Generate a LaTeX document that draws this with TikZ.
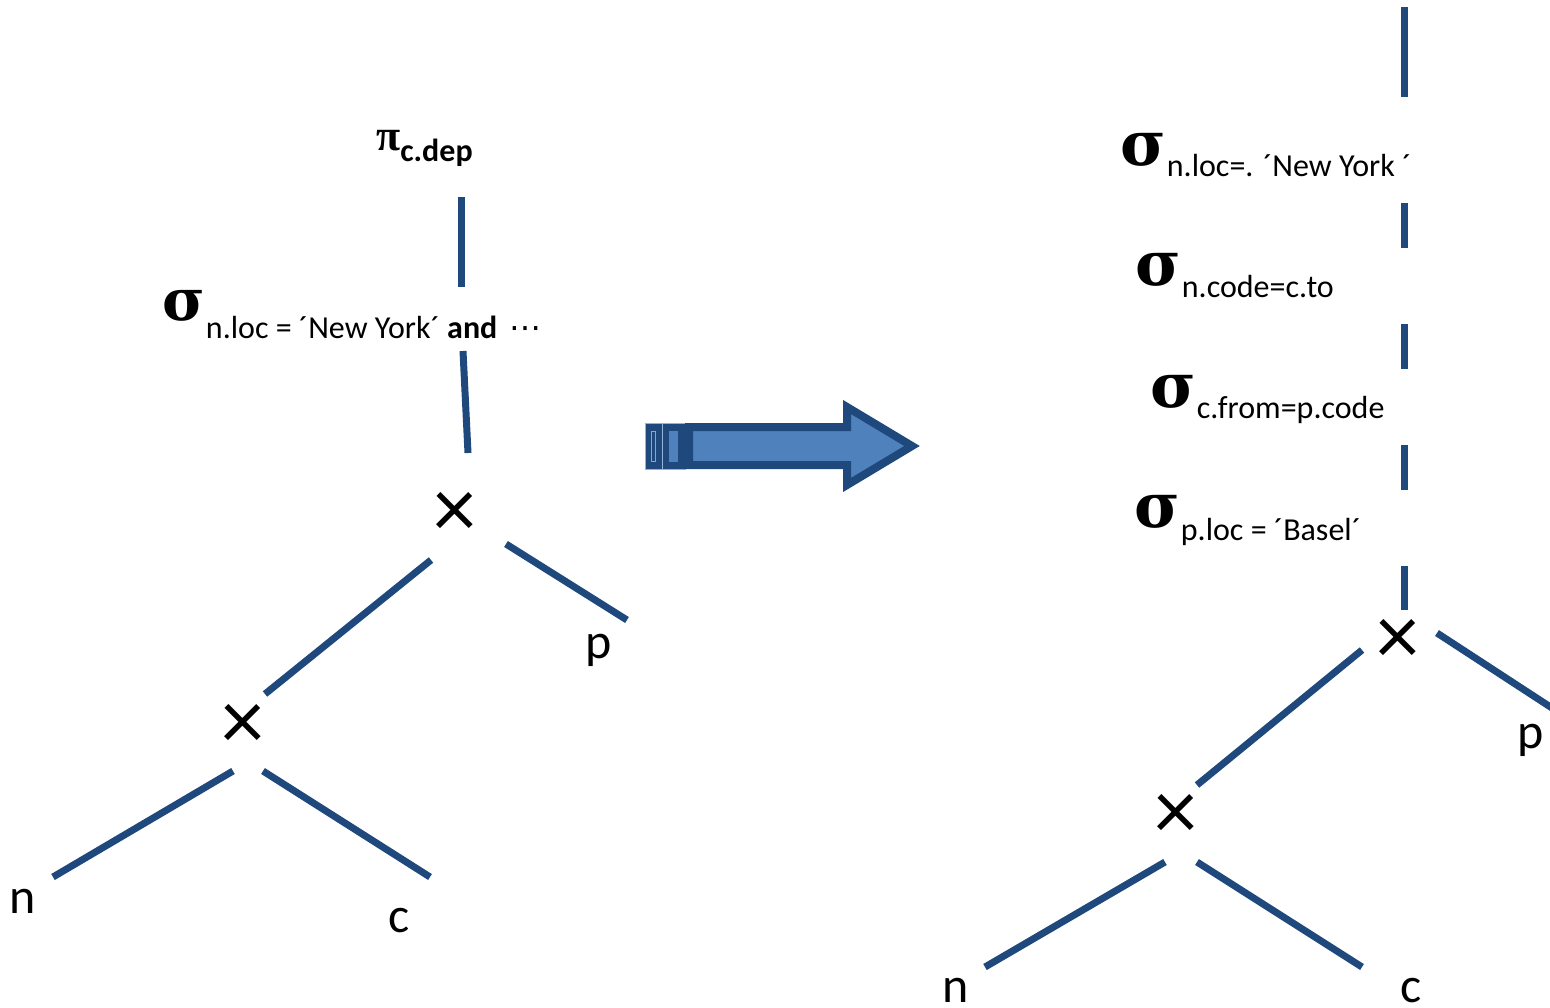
\documentclass[tikz,border=0pt]{standalone}
\usepackage{fontspec}
\setmainfont{Carlito}
\newfontfamily\serifgreek{Liberation Serif}
\newfontfamily\widegreek{DejaVu Serif}
\newfontfamily\dotsfont{DejaVu Sans}
\definecolor{treeblue}{HTML}{1F497D}
\definecolor{arrowfill}{HTML}{4F81BD}

\newcommand\sigmaop[1]{{\fontsize{#1}{#1}\selectfont\widegreek\bfseries σ}}
\newcommand\subtext{\fontsize{32}{36}\selectfont}

\tikzset{
  edge/.style={draw=treeblue, line width=7pt},
  leaf/.style={inner sep=0pt, anchor=base, font=\fontsize{50}{60}\selectfont},
  joinop/.style={inner sep=0pt, font=\fontsize{86}{96}\selectfont},
  oplabel/.style={inner sep=0pt, anchor=base west},
  stripe/.style={fill=treeblue, draw=arrowfill!60, line width=0.8pt},
}

\begin{document}
\begin{tikzpicture}[x=1pt, y=-1pt]
\useasboundingbox (0,0) rectangle (1550,1007);
\clip (0,0) rectangle (1550,1007);

% ---------- left operator tree ----------
\node[oplabel] (proj) at (376,150)
  {{\fontsize{44}{44}\selectfont\serifgreek\bfseries π}\raisebox{-11pt}{\subtext\bfseries c.dep}};
\node[oplabel] (selL) at (162,320)
  {\sigmaop{58}\hspace{1pt}\raisebox{-18pt}{\subtext n.loc = ´New York´ \textbf{and}\hspace{12pt}{\dotsfont ⋯}}};
\node[joinop] (jL1) at (455,515) {×};
\node[joinop] (jL2) at (243,727) {×};
\node[leaf] (nL) at (23,913) {n};
\node[leaf] (cL) at (399,932) {c};
\node[leaf] (pL) at (599,658) {p};

\coordinate (projB) at (461,197);
\coordinate (selLT) at (461,287);
\coordinate (selLB) at (463,351);
\coordinate (jL1T)  at (468,453);
\coordinate (jL1L)  at (431,560);
\coordinate (jL2T)  at (265,694);
\coordinate (jL1R)  at (506,544);
\coordinate (pLT)   at (627,620);
\coordinate (jL2L)  at (233,771);
\coordinate (nLT)   at (53,877);
\coordinate (jL2R)  at (263,771);
\coordinate (cLT)   at (430,877);

\draw[edge] (projB) -- (selLT);
\draw[edge] (selLB) -- (jL1T);
\draw[edge] (jL1L) -- (jL2T);
\draw[edge] (jL1R) -- (pLT);
\draw[edge] (jL2L) -- (nLT);
\draw[edge] (jL2R) -- (cLT);

% ---------- rewrite arrow ----------
\draw[stripe] (645,423) rectangle (662,469);
\draw[draw=arrowfill!70, line width=0.8pt] (651,431) rectangle (655,461);
\draw[stripe] (662,423) rectangle (685,469);
\draw[fill=arrowfill, draw=arrowfill, line width=0.5pt] (669,431) rectangle (677,461);
\draw[draw=treeblue, fill=arrowfill, line width=8pt, miter limit=10]
  (689,427) -- (847,427) -- (847,407) -- (912,446) -- (847,485) -- (847,465) -- (689,465) -- cycle;

% ---------- right operator tree ----------
\node[oplabel] (selR1) at (1120,165)
  {\sigmaop{62}\hspace{1pt}\raisebox{-11pt}{\subtext n.loc=. ´New York ´}};
\node[oplabel] (selR2) at (1135,285)
  {\sigmaop{62}\hspace{1pt}\raisebox{-12pt}{\subtext n.code=c.to}};
\node[oplabel] (selR3) at (1150,407)
  {\sigmaop{62}\hspace{1pt}\raisebox{-11pt}{\subtext c.from=p.code}};
\node[oplabel] (selR4) at (1134,527)
  {\sigmaop{62}\hspace{1pt}\raisebox{-13pt}{\subtext p.loc = ´Basel´}};
\node[joinop] (jR1) at (1398,642) {×};
\node[joinop] (jR2) at (1176,817) {×};
\node[leaf] (nR) at (956,1002) {n};
\node[leaf] (cR) at (1411,1002) {c};
\node[leaf] (pR) at (1531,748) {p};

\coordinate (topA)  at (1404,7);
\coordinate (topB)  at (1404,97);
\coordinate (spineA) at (1404,203);
\coordinate (jR1T)  at (1404,610);
\coordinate (jR1L)  at (1362,650);
\coordinate (jR2T)  at (1197,785);
\coordinate (jR1R)  at (1437,633);
\coordinate (pRT)   at (1575,723);
\coordinate (jR2L)  at (1165,862);
\coordinate (nRT)   at (985,967);
\coordinate (jR2R)  at (1197,862);
\coordinate (cRT)   at (1362,967);

\draw[edge] (topA) -- (topB);
\draw[edge, dash pattern=on 45pt off 76pt] (spineA) -- (jR1T);
\draw[edge] (jR1L) -- (jR2T);
\draw[edge] (jR1R) -- (pRT);
\draw[edge] (jR2L) -- (nRT);
\draw[edge] (jR2R) -- (cRT);
\end{tikzpicture}
\end{document}
